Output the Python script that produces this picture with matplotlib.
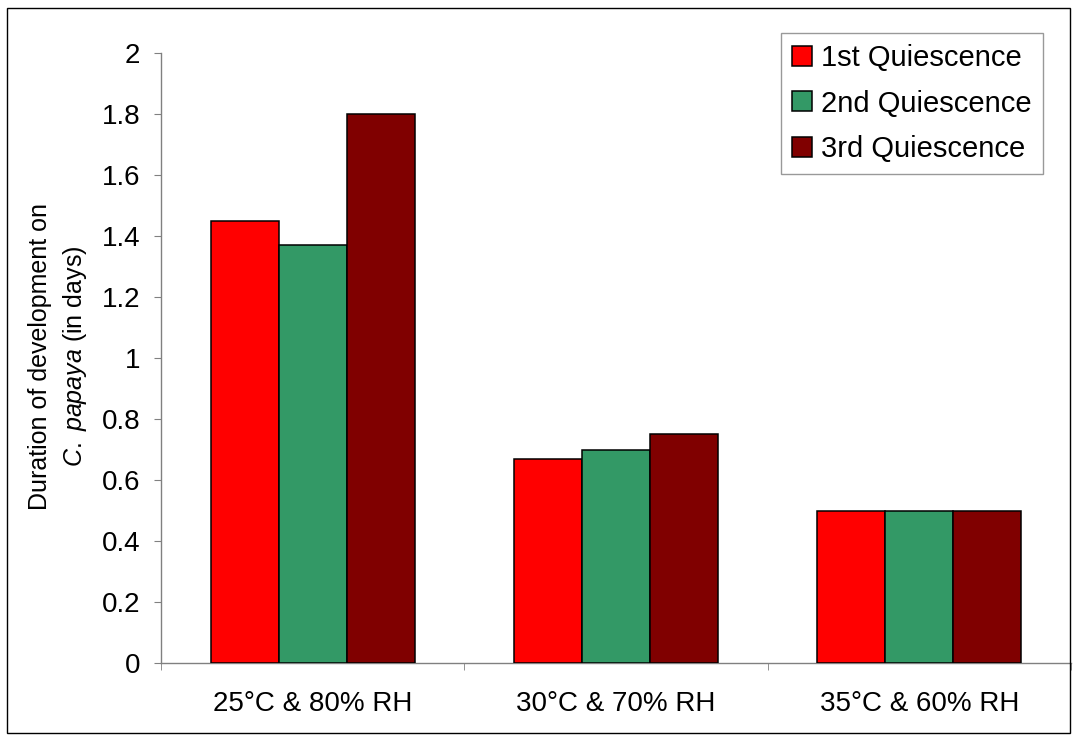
import matplotlib
matplotlib.use("Agg")
import matplotlib.pyplot as plt
from matplotlib.patches import Rectangle
import numpy as np

conditions = ["25°C & 80% RH", "30°C & 70% RH", "35°C & 60% RH"]
series_names = ["1st Quiescence", "2nd Quiescence", "3rd Quiescence"]
first_q = [1.45, 0.67, 0.50]
second_q = [1.37, 0.70, 0.50]
third_q = [1.80, 0.75, 0.50]
y_ticks = [0, 0.2, 0.4, 0.6, 0.8, 1, 1.2, 1.4, 1.6, 1.8, 2]
y_tick_labels = ["0", "0.2", "0.4", "0.6", "0.8", "1", "1.2", "1.4", "1.6", "1.8", "2"]

colors = ["#ff0000", "#339966", "#800000"]

plt.rcParams["font.family"] = ["Liberation Sans", "DejaVu Sans"]
plt.rcParams["mathtext.fontset"] = "custom"
plt.rcParams["mathtext.it"] = "Liberation Sans:italic"
plt.rcParams["mathtext.rm"] = "Liberation Sans"

W, H = 1074, 740
fig = plt.figure(figsize=(W / 100, H / 100), dpi=100)
ax = fig.add_axes([161 / W, 1 - 663 / H, (1071 - 161) / W, (663 - 53) / H])

# outer frame around the whole chart
fig.patches.append(Rectangle((7 / W, 1 - 733 / H), (1070 - 7) / W, (733 - 8) / H,
                             transform=fig.transFigure, fill=False,
                             edgecolor="black", linewidth=1.0))

x = np.arange(len(conditions))
bw = 0.224
for i, (vals, name) in enumerate(zip([first_q, second_q, third_q], series_names)):
    ax.bar(x + (i - 1) * bw, vals, width=bw, color=colors[i], edgecolor="black",
           linewidth=1.1, label=name, zorder=3)

ax.set_xlim(-0.5, len(conditions) - 0.5)
ax.set_ylim(0, 2)
ax.set_yticks(y_ticks)
ax.set_yticklabels(y_tick_labels)
ax.set_xticks(x)
ax.set_xticklabels(conditions)
ax.set_xticks(np.arange(len(conditions) + 1) - 0.5, minor=True)
ax.tick_params(axis="x", which="major", length=0, pad=20, labelsize=20)
ax.tick_params(axis="x", which="minor", length=5, color="#808080", direction="out")
ax.tick_params(axis="y", length=5, color="#808080", direction="out", pad=10, labelsize=20)

for s in ["top", "right"]:
    ax.spines[s].set_visible(False)
for s in ["left", "bottom"]:
    ax.spines[s].set_color("#808080")
    ax.spines[s].set_linewidth(1.0)

fig.text(40 / W, 1 - 356 / H, "Duration of development on", rotation=90,
         ha="center", va="center", fontsize=18)
fig.text(75 / W, 1 - 356 / H, r"$\it{C.\ papaya}$ (in days)", rotation=90,
         ha="center", va="center", fontsize=18)

leg = ax.legend(loc="upper right", bbox_to_anchor=(1043 / W, 1 - 33 / H),
                bbox_transform=fig.transFigure, fontsize=21, frameon=True,
                fancybox=False, edgecolor="#808080", handlelength=0.69,
                handleheight=0.69, handletextpad=0.31, labelspacing=0.6,
                borderpad=0.38, borderaxespad=0)
leg.get_frame().set_linewidth(1.0)

fig.savefig("out.png", dpi=100)
